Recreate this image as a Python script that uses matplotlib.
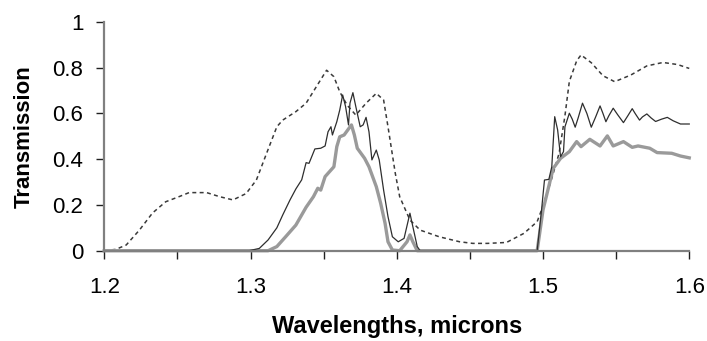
import numpy as np
import matplotlib
matplotlib.use("Agg")
import matplotlib.pyplot as plt
from matplotlib.ticker import MultipleLocator

plt.rcParams['font.family'] = ['Liberation Sans', 'DejaVu Sans']

# dashed curve (upper, thin dashed)
x_dash = [1.200, 1.208, 1.215, 1.224, 1.233, 1.242, 1.251, 1.258, 1.270, 1.279,
          1.288, 1.297, 1.304, 1.311, 1.318, 1.322, 1.331, 1.338, 1.345, 1.352,
          1.357, 1.361, 1.366, 1.372, 1.379, 1.386, 1.391, 1.394, 1.399, 1.402,
          1.409, 1.416, 1.429, 1.443, 1.452, 1.462, 1.475, 1.487, 1.496, 1.499,
          1.505, 1.511, 1.515, 1.518, 1.523, 1.526, 1.533, 1.541, 1.549, 1.560,
          1.571, 1.582, 1.592, 1.600]
y_dash = [0.000, 0.006, 0.025, 0.090, 0.165, 0.214, 0.236, 0.254, 0.254, 0.236,
          0.222, 0.250, 0.309, 0.426, 0.542, 0.571, 0.608, 0.645, 0.717, 0.789,
          0.761, 0.695, 0.637, 0.593, 0.645, 0.688, 0.659, 0.542, 0.338, 0.236,
          0.134, 0.090, 0.061, 0.039, 0.032, 0.032, 0.036, 0.076, 0.127, 0.178,
          0.295, 0.426, 0.590, 0.740, 0.830, 0.856, 0.822, 0.765, 0.739, 0.768,
          0.808, 0.823, 0.814, 0.797]

# thin solid curve
x_thin = [1.200, 1.299, 1.306, 1.312, 1.318, 1.322, 1.327, 1.331, 1.335, 1.338,
          1.340, 1.344, 1.348, 1.351, 1.353, 1.355, 1.356, 1.359, 1.361, 1.363,
          1.365, 1.367, 1.368, 1.370, 1.372, 1.375, 1.377, 1.379, 1.381, 1.383,
          1.384, 1.386, 1.388, 1.391, 1.394, 1.397, 1.401, 1.405, 1.409, 1.411,
          1.414, 1.416, 1.496, 1.499, 1.501, 1.504, 1.506, 1.508, 1.510, 1.512,
          1.514, 1.515, 1.518, 1.520, 1.522, 1.524, 1.527, 1.530, 1.533, 1.536,
          1.539, 1.541, 1.543, 1.545, 1.548, 1.551, 1.555, 1.558, 1.561, 1.563,
          1.566, 1.568, 1.571, 1.574, 1.577, 1.581, 1.585, 1.589, 1.594, 1.600]
y_thin = [0.000, 0.000, 0.010, 0.047, 0.100, 0.156, 0.222, 0.270, 0.310, 0.385,
          0.382, 0.445, 0.448, 0.458, 0.520, 0.542, 0.506, 0.564, 0.615, 0.681,
          0.630, 0.550, 0.645, 0.691, 0.630, 0.542, 0.550, 0.583, 0.520, 0.397,
          0.411, 0.440, 0.397, 0.265, 0.149, 0.061, 0.039, 0.054, 0.164, 0.105,
          0.018, 0.000, 0.000, 0.178, 0.309, 0.312, 0.367, 0.586, 0.528, 0.411,
          0.433, 0.542, 0.601, 0.575, 0.540, 0.580, 0.645, 0.600, 0.540, 0.585,
          0.633, 0.600, 0.564, 0.590, 0.623, 0.595, 0.560, 0.590, 0.621, 0.600,
          0.571, 0.585, 0.598, 0.580, 0.565, 0.575, 0.583, 0.568, 0.554, 0.554]

# thick grey curve
x_thick = [1.200, 1.312, 1.318, 1.324, 1.331, 1.338, 1.343, 1.346, 1.348, 1.351,
           1.357, 1.359, 1.361, 1.364, 1.369, 1.371, 1.373, 1.378, 1.381, 1.386,
           1.389, 1.392, 1.394, 1.397, 1.402, 1.407, 1.409, 1.411, 1.414, 1.496,
           1.500, 1.505, 1.507, 1.512, 1.518, 1.523, 1.526, 1.532, 1.539, 1.544,
           1.548, 1.555, 1.561, 1.565, 1.573, 1.578, 1.588, 1.594, 1.600]
y_thick = [0.000, 0.000, 0.018, 0.061, 0.112, 0.190, 0.236, 0.273, 0.265, 0.324,
           0.367, 0.455, 0.498, 0.506, 0.550, 0.506, 0.448, 0.404, 0.367, 0.280,
           0.207, 0.120, 0.039, 0.003, 0.000, 0.039, 0.069, 0.039, 0.000, 0.000,
           0.178, 0.309, 0.360, 0.404, 0.433, 0.477, 0.455, 0.487, 0.458, 0.502,
           0.458, 0.477, 0.452, 0.458, 0.448, 0.429, 0.426, 0.414, 0.406]

x_ticks = [1.2, 1.3, 1.4, 1.5, 1.6]
y_ticks = [0, 0.2, 0.4, 0.6, 0.8, 1]

fig = plt.figure(figsize=(7.07, 3.41), dpi=100)
ax = fig.add_axes([0.1475, 0.2648, 0.8274, 0.6707])

ax.plot(x_dash, y_dash, color='#3a3a3a', lw=1.1, dashes=(2.6, 2.2), clip_on=False)
ax.plot(x_thick, y_thick, color='#9a9a9a', lw=2.4, clip_on=False,
        solid_joinstyle='round')
ax.plot(x_thin, y_thin, color='#2e2e2e', lw=0.9, clip_on=False,
        solid_joinstyle='round')

ax.set_xlim(1.2, 1.6)
ax.set_ylim(0, 1)
ax.set_xticks(x_ticks)
ax.set_xticklabels([f"{v:g}" for v in x_ticks])
ax.xaxis.set_minor_locator(MultipleLocator(0.05))
ax.set_yticks(y_ticks)
ax.set_yticklabels([f"{v:g}" for v in y_ticks])

for s in ['top', 'right']:
    ax.spines[s].set_visible(False)
for s in ['left', 'bottom']:
    ax.spines[s].set_color('#808080')
    ax.spines[s].set_linewidth(1.6)

ax.tick_params(axis='both', which='both', direction='out', color='#202020',
               width=1.0, labelsize=16, labelcolor='black')
ax.tick_params(axis='x', which='both', length=6, pad=13)
ax.tick_params(axis='y', length=6, pad=9)

ax.set_xlabel("Wavelengths, microns", fontsize=17, fontweight='bold')
ax.set_ylabel("Transmission", fontsize=16, fontweight='bold')
ax.xaxis.set_label_coords(0.5, -0.33)
ax.xaxis.label.set_va('center')
ax.yaxis.set_label_coords(-0.137, 0.5)
ax.yaxis.label.set_va('center')

fig.savefig("out.png", dpi=100)
